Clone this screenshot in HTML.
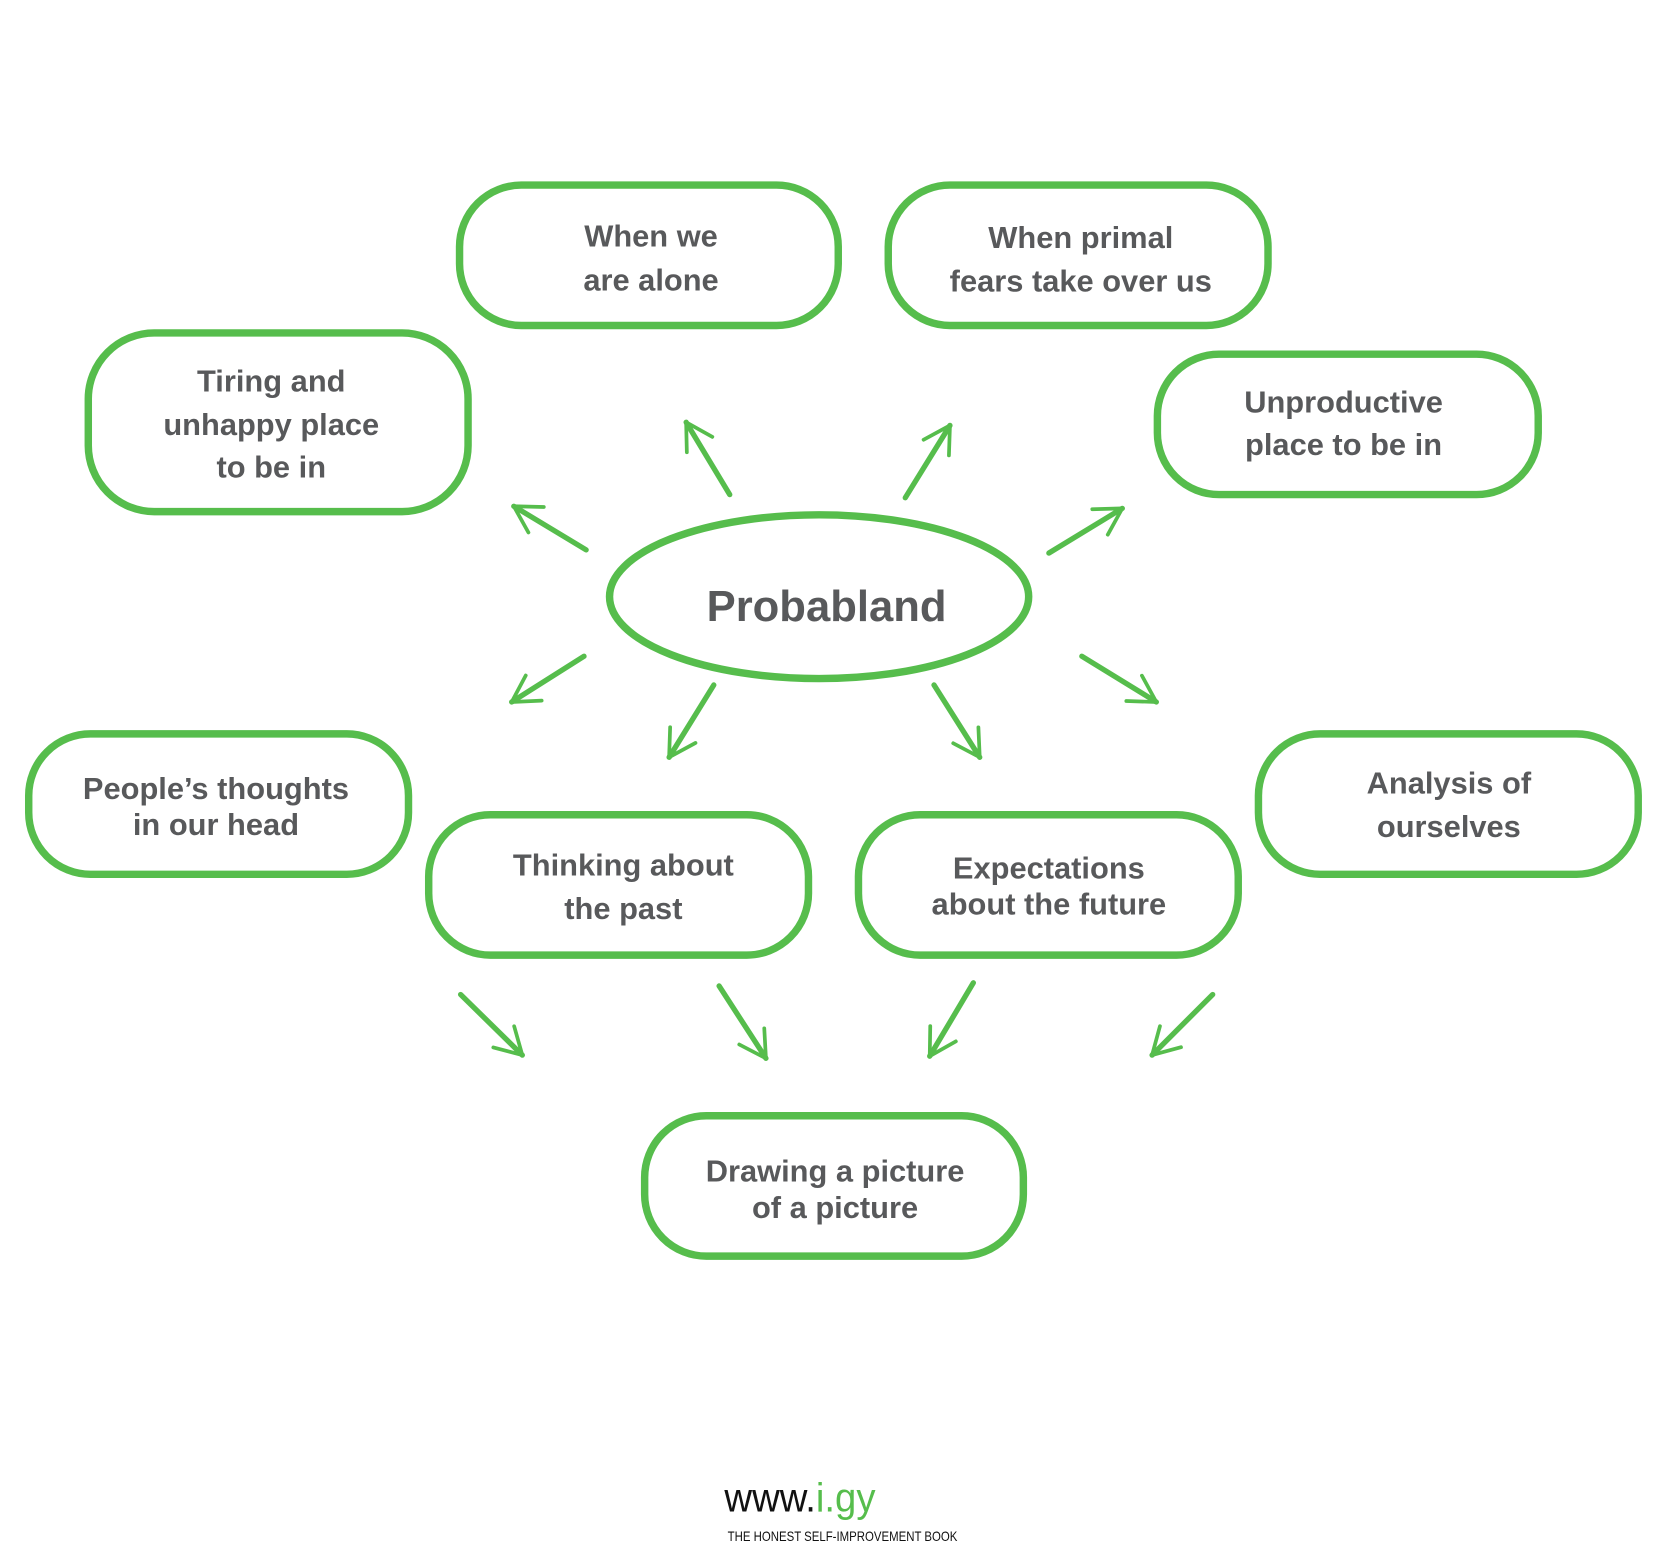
<!DOCTYPE html>
<html><head><meta charset="utf-8"><style>
html,body{margin:0;padding:0;background:#fff;}
svg{display:block;}
text{font-family:"Liberation Sans",sans-serif;font-weight:bold;fill:#58595b;text-anchor:middle;}
</style></head><body>
<svg width="1668" height="1555" viewBox="0 0 1568 1462" preserveAspectRatio="none" xmlns="http://www.w3.org/2000/svg">
<defs>
<marker id="h" viewBox="0 0 10 10" refX="8" refY="5" markerWidth="7" markerHeight="7" orient="auto" markerUnits="strokeWidth">
<path d="M1,1 L8,5 L1,9" fill="none" stroke="#56bd4c" stroke-width="1" stroke-linecap="round" stroke-linejoin="round"/>
</marker>
</defs>
<g fill="none" stroke="#56bd4c" stroke-width="7">
<rect x="432" y="174" width="356" height="132" rx="58"/>
<rect x="835" y="174" width="357" height="132" rx="58"/>
<rect x="83" y="313" width="357" height="168" rx="62"/>
<rect x="1088" y="333" width="358" height="132" rx="58"/>
<ellipse cx="770" cy="561" rx="197" ry="77"/>
<rect x="27" y="690" width="357" height="132" rx="58"/>
<rect x="403" y="766" width="357" height="132" rx="58"/>
<rect x="807" y="766" width="357" height="132" rx="58"/>
<rect x="1183" y="690" width="357" height="132" rx="58"/>
<rect x="606" y="1049" width="356" height="132" rx="58"/>
</g>
<g stroke="#56bd4c" stroke-width="5" stroke-linecap="round" marker-end="url(#h)">
<line x1="686" y1="465" x2="645" y2="397"/>
<line x1="851" y1="468" x2="893" y2="400"/>
<line x1="551" y1="517" x2="483" y2="476"/>
<line x1="986" y1="520" x2="1055" y2="478"/>
<line x1="549" y1="617" x2="481" y2="660"/>
<line x1="1017" y1="617" x2="1087" y2="660"/>
<line x1="671" y1="644" x2="629" y2="712"/>
<line x1="878" y1="644" x2="921" y2="712"/>
<line x1="433" y1="935" x2="491" y2="992"/>
<line x1="676" y1="927" x2="720" y2="995"/>
<line x1="915" y1="924" x2="874" y2="993"/>
<line x1="1140" y1="935" x2="1083" y2="992"/>
</g>
<g font-size="29">
<text x="612" y="232">When we</text>
<text x="612" y="273">are alone</text>
<text x="1016" y="233">When primal</text>
<text x="1016" y="274">fears take over us</text>
<text x="255" y="368">Tiring and</text>
<text x="255" y="409">unhappy place</text>
<text x="255" y="449">to be in</text>
<text x="1263" y="388">Unproductive</text>
<text x="1263" y="428">place to be in</text>
<text x="203" y="751">People’s thoughts</text>
<text x="203" y="785">in our head</text>
<text x="586" y="823">Thinking about</text>
<text x="586" y="864">the past</text>
<text x="986" y="826">Expectations</text>
<text x="986" y="860">about the future</text>
<text x="1362" y="746">Analysis of</text>
<text x="1362" y="787">ourselves</text>
<text x="785" y="1111">Drawing a picture</text>
<text x="785" y="1145">of a picture</text>
</g>
<text x="777" y="584" font-size="41">Probabland</text>
<text x="752" y="1421" font-size="38" style="font-weight:normal;fill:#111" textLength="142" lengthAdjust="spacingAndGlyphs">www.<tspan fill="#56bd4c">i.gy</tspan></text>
<text x="792" y="1449" font-size="13" style="font-weight:normal;fill:#111" textLength="216" lengthAdjust="spacingAndGlyphs">THE HONEST SELF-IMPROVEMENT BOOK</text>
</svg>
</body></html>
